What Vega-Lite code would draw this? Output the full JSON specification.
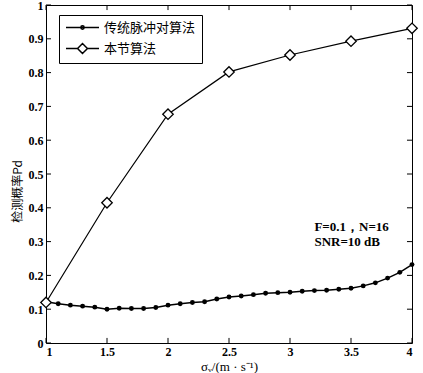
{
  "$schema": "https://vega.github.io/schema/vega-lite/v6.json",
  "autosize": {"type": "none"},
  "padding": {"left": 46, "top": 5, "right": 11, "bottom": 30},
  "width": 366,
  "height": 338,
  "background": "white",
  "config": {
    "view": {"stroke": "black", "strokeWidth": 1},
    "font": "Liberation Serif",
    "axis": {"labelFont": "Liberation Serif", "labelFontSize": 12, "labelFontWeight": "bold", "labelColor": "black", "domainColor": "black", "tickColor": "black", "tickWidth": 1, "grid": false, "titleColor": "black"}
  },
  "datasets": {
    "d": [
      {"x": 1.0, "y": 0.122, "series": "传统脉冲对算法"},
      {"x": 1.1, "y": 0.116, "series": "传统脉冲对算法"},
      {"x": 1.2, "y": 0.112, "series": "传统脉冲对算法"},
      {"x": 1.3, "y": 0.109, "series": "传统脉冲对算法"},
      {"x": 1.4, "y": 0.106, "series": "传统脉冲对算法"},
      {"x": 1.5, "y": 0.100, "series": "传统脉冲对算法"},
      {"x": 1.6, "y": 0.103, "series": "传统脉冲对算法"},
      {"x": 1.7, "y": 0.102, "series": "传统脉冲对算法"},
      {"x": 1.8, "y": 0.102, "series": "传统脉冲对算法"},
      {"x": 1.9, "y": 0.105, "series": "传统脉冲对算法"},
      {"x": 2.0, "y": 0.112, "series": "传统脉冲对算法"},
      {"x": 2.1, "y": 0.116, "series": "传统脉冲对算法"},
      {"x": 2.2, "y": 0.120, "series": "传统脉冲对算法"},
      {"x": 2.3, "y": 0.122, "series": "传统脉冲对算法"},
      {"x": 2.4, "y": 0.130, "series": "传统脉冲对算法"},
      {"x": 2.5, "y": 0.136, "series": "传统脉冲对算法"},
      {"x": 2.6, "y": 0.139, "series": "传统脉冲对算法"},
      {"x": 2.7, "y": 0.143, "series": "传统脉冲对算法"},
      {"x": 2.8, "y": 0.147, "series": "传统脉冲对算法"},
      {"x": 2.9, "y": 0.149, "series": "传统脉冲对算法"},
      {"x": 3.0, "y": 0.150, "series": "传统脉冲对算法"},
      {"x": 3.1, "y": 0.153, "series": "传统脉冲对算法"},
      {"x": 3.2, "y": 0.155, "series": "传统脉冲对算法"},
      {"x": 3.3, "y": 0.156, "series": "传统脉冲对算法"},
      {"x": 3.4, "y": 0.159, "series": "传统脉冲对算法"},
      {"x": 3.5, "y": 0.162, "series": "传统脉冲对算法"},
      {"x": 3.6, "y": 0.169, "series": "传统脉冲对算法"},
      {"x": 3.7, "y": 0.178, "series": "传统脉冲对算法"},
      {"x": 3.8, "y": 0.192, "series": "传统脉冲对算法"},
      {"x": 3.9, "y": 0.209, "series": "传统脉冲对算法"},
      {"x": 4.0, "y": 0.232, "series": "传统脉冲对算法"},
      {"x": 1.0, "y": 0.120, "series": "本节算法"},
      {"x": 1.5, "y": 0.415, "series": "本节算法"},
      {"x": 2.0, "y": 0.677, "series": "本节算法"},
      {"x": 2.5, "y": 0.802, "series": "本节算法"},
      {"x": 3.0, "y": 0.852, "series": "本节算法"},
      {"x": 3.5, "y": 0.893, "series": "本节算法"},
      {"x": 4.0, "y": 0.931, "series": "本节算法"}
    ],
    "xt": [{"v": 1}, {"v": 1.5}, {"v": 2}, {"v": 2.5}, {"v": 3}, {"v": 3.5}, {"v": 4}],
    "yt": [{"v": 0}, {"v": 0.1}, {"v": 0.2}, {"v": 0.3}, {"v": 0.4}, {"v": 0.5}, {"v": 0.6}, {"v": 0.7}, {"v": 0.8}, {"v": 0.9}, {"v": 1}]
  },
  "resolve": {"axis": {"x": "independent", "y": "independent"}},
  "layer": [
    {
      "data": {"name": "d"},
      "transform": [{"filter": "datum.series === '传统脉冲对算法'"}],
      "mark": {"type": "line", "color": "black", "strokeWidth": 1.5},
      "encoding": {
        "x": {"field": "x", "type": "quantitative", "scale": {"domain": [1, 4], "nice": false},
          "axis": {"orient": "bottom", "values": [1, 1.5, 2, 2.5, 3, 3.5, 4], "format": "~g", "ticks": false, "labelPadding": 3, "domain": false,
            "title": "σᵥ/(m · s⁻¹)", "titleFont": "Liberation Serif", "titleFontSize": 13, "titleFontWeight": "normal", "titlePadding": 3}},
        "y": {"field": "y", "type": "quantitative", "scale": {"domain": [0, 1], "nice": false},
          "axis": {"orient": "left", "values": [0, 0.1, 0.2, 0.3, 0.4, 0.5, 0.6, 0.7, 0.8, 0.9, 1], "format": "~g", "ticks": false, "labelPadding": 3, "domain": false,
            "title": "检测概率Pd", "titleFont": "Noto Sans CJK SC", "titleFontSize": 12, "titleFontWeight": "normal", "titlePadding": 4, "titleY": 186}}
      }
    },
    {
      "data": {"name": "d"},
      "transform": [{"filter": "datum.series === '传统脉冲对算法'"}],
      "mark": {"type": "point", "shape": "circle", "filled": true, "color": "black", "size": 24, "opacity": 1},
      "encoding": {
        "x": {"field": "x", "type": "quantitative", "scale": {"domain": [1, 4], "nice": false}, "axis": null},
        "y": {"field": "y", "type": "quantitative", "scale": {"domain": [0, 1], "nice": false}, "axis": null}
      }
    },
    {
      "data": {"name": "d"},
      "transform": [{"filter": "datum.series === '本节算法'"}],
      "mark": {"type": "line", "color": "black", "strokeWidth": 1.2},
      "encoding": {
        "x": {"field": "x", "type": "quantitative", "scale": {"domain": [1, 4], "nice": false}, "axis": null},
        "y": {"field": "y", "type": "quantitative", "scale": {"domain": [0, 1], "nice": false}, "axis": null}
      }
    },
    {
      "data": {"name": "d"},
      "transform": [{"filter": "datum.series === '本节算法'"}],
      "mark": {"type": "point", "shape": "diamond", "filled": true, "fill": "white", "stroke": "black", "strokeWidth": 1.3, "size": 110, "opacity": 1},
      "encoding": {
        "x": {"field": "x", "type": "quantitative", "scale": {"domain": [1, 4], "nice": false}, "axis": null},
        "y": {"field": "y", "type": "quantitative", "scale": {"domain": [0, 1], "nice": false}, "axis": null}
      }
    },
    {
      "data": {"name": "xt"},
      "mark": {"type": "rule", "color": "black", "strokeWidth": 1},
      "encoding": {
        "x": {"field": "v", "type": "quantitative", "scale": {"domain": [1, 4], "nice": false}, "axis": null},
        "y": {"datum": 0, "type": "quantitative", "scale": {"domain": [0, 1], "nice": false}, "axis": null},
        "y2": {"datum": 0.015}
      }
    },
    {
      "data": {"name": "xt"},
      "mark": {"type": "rule", "color": "black", "strokeWidth": 1},
      "encoding": {
        "x": {"field": "v", "type": "quantitative", "scale": {"domain": [1, 4], "nice": false}, "axis": null},
        "y": {"datum": 1, "type": "quantitative", "scale": {"domain": [0, 1], "nice": false}, "axis": null},
        "y2": {"datum": 0.985}
      }
    },
    {
      "data": {"name": "yt"},
      "mark": {"type": "rule", "color": "black", "strokeWidth": 1},
      "encoding": {
        "y": {"field": "v", "type": "quantitative", "scale": {"domain": [0, 1], "nice": false}, "axis": null},
        "x": {"datum": 1, "type": "quantitative", "scale": {"domain": [1, 4], "nice": false}, "axis": null},
        "x2": {"datum": 1.041}
      }
    },
    {
      "data": {"name": "yt"},
      "mark": {"type": "rule", "color": "black", "strokeWidth": 1},
      "encoding": {
        "y": {"field": "v", "type": "quantitative", "scale": {"domain": [0, 1], "nice": false}, "axis": null},
        "x": {"datum": 4, "type": "quantitative", "scale": {"domain": [1, 4], "nice": false}, "axis": null},
        "x2": {"datum": 3.959}
      }
    },
    {
      "data": {"values": [{"series": "传统脉冲对算法"}, {"series": "本节算法"}]},
      "mark": {"type": "point", "filled": false, "stroke": "black", "strokeWidth": 1.5, "clip": true},
      "encoding": {
        "x": {"datum": 10, "type": "quantitative", "scale": {"domain": [1, 4], "nice": false}, "axis": null},
        "y": {"datum": 0.5, "type": "quantitative", "scale": {"domain": [0, 1], "nice": false}, "axis": null},
        "shape": {"field": "series", "type": "nominal",
          "scale": {"domain": ["传统脉冲对算法", "本节算法"], "range": ["M-1,0H5M1.7,0A0.3,0.3 0 1,0 2.3,0A0.3,0.3 0 1,0 1.7,0Z", "M-1,0H1.1M2.9,0H5M1.1,0L2,-0.9L2.9,0L2,0.9Z"]},
          "legend": {"orient": "none", "legendX": 13, "legendY": 10, "title": null, "strokeColor": "black", "fillColor": "white", "padding": 6, "symbolSize": 121, "symbolStrokeColor": "black", "symbolStrokeWidth": 1.5, "symbolOpacity": 1, "labelFont": "Noto Sans CJK SC", "labelFontSize": 13, "labelColor": "black", "labelOffset": 26, "rowPadding": 5,
            "encode": {"symbols": {"update": {"fill": [{"test": "datum.value === '本节算法'", "value": "white"}, {"value": "black"}], "stroke": {"value": "black"}, "strokeWidth": {"value": 1.5}, "opacity": {"value": 1}}}}}}
      }
    },
    {
      "data": {"values": [{"x": 3.2, "y": 0.344, "label": "F=0.1，N=16"}, {"x": 3.2, "y": 0.298, "label": "SNR=10 dB"}]},
      "mark": {"type": "text", "align": "left", "baseline": "middle", "font": "Liberation Serif", "fontSize": 13, "fontWeight": "bold", "color": "black"},
      "encoding": {
        "x": {"field": "x", "type": "quantitative", "scale": {"domain": [1, 4], "nice": false}, "axis": null},
        "y": {"field": "y", "type": "quantitative", "scale": {"domain": [0, 1], "nice": false}, "axis": null},
        "text": {"field": "label"}
      }
    }
  ]
}
